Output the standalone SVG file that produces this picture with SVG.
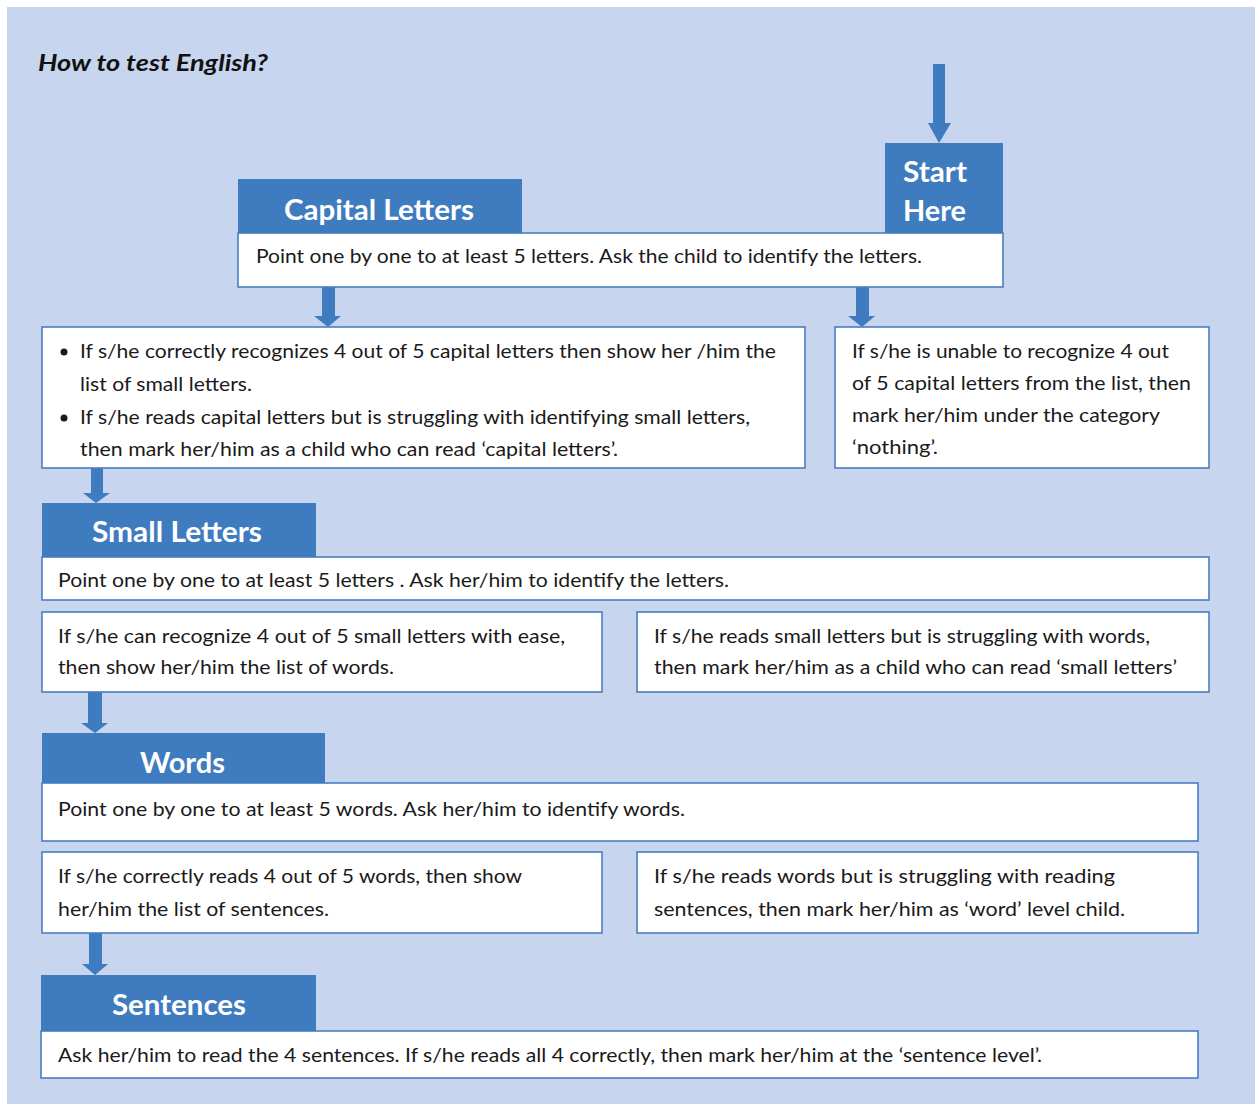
<svg xmlns="http://www.w3.org/2000/svg" width="1255" height="1104" viewBox="0 0 1255 1104">
<style>
.bg{fill:#C7D5EE}
.hdr{fill:#3F7CBF}
.box{fill:#FFFFFF;stroke:#4A7FC1;stroke-width:1.6}
.arr{fill:#3F7CBF}
.t{font-family:Lato,"Open Sans","Liberation Sans",sans-serif;font-size:20px;fill:#1A1A1A}
.h{font-family:Lato,"Open Sans","Liberation Sans",sans-serif;font-size:29px;font-weight:bold;fill:#FFFFFF}
.title{font-family:Lato,"Open Sans","Liberation Sans",sans-serif;font-size:23px;font-weight:bold;font-style:italic;fill:#111111}
</style>
<rect x="0" y="0" width="1255" height="1104" fill="#FFFFFF"/>
<rect class="bg" x="7" y="7" width="1248" height="1097"/>
<text class="title" x="38" y="71" textLength="230" lengthAdjust="spacingAndGlyphs">How to test English?</text>

<g id="connectors">
<polygon class="arr" points="933,64 945,64 945,123 951,123 939,143 928,123 933,123"/>
<polygon class="arr" points="322,285 335,285 335,316 341,316 328,327 314,316 322,316"/>
<polygon class="arr" points="856,285 869,285 869,316 875,316 862,327 848,316 856,316"/>
<polygon class="arr" points="91,466 103,466 103,493 110,493 96,503 83,493 91,493"/>
<polygon class="arr" points="88,692 102,692 102,723 108,723 95,733 81,723 88,723"/>
<polygon class="arr" points="89,933 102,933 102,964 108,964 95,975 82,964 89,964"/>
</g>

<g id="capital">
<rect class="box" x="238" y="233" width="765" height="54"/>
<rect class="hdr" x="238" y="179" width="284" height="54"/>
<text class="h" x="284" y="220" textLength="190" lengthAdjust="spacingAndGlyphs">Capital Letters</text>
<text class="t" x="256" y="263" textLength="666" lengthAdjust="spacingAndGlyphs">Point one by one to at least 5 letters. Ask the child to identify the letters.</text>
</g>

<g id="start">
<rect class="hdr" x="885" y="143" width="118" height="90"/>
<text class="h" x="903" y="182" textLength="64" lengthAdjust="spacingAndGlyphs">Start</text>
<text class="h" x="903" y="221" textLength="63" lengthAdjust="spacingAndGlyphs">Here</text>
</g>

<g id="capital-yes">
<rect class="box" x="42" y="327" width="763" height="141"/>
<circle cx="64" cy="352" r="3.5" fill="#1A1A1A"/>
<circle cx="64" cy="418" r="3.5" fill="#1A1A1A"/>
<text class="t" x="80" y="358" textLength="696" lengthAdjust="spacingAndGlyphs">If s/he correctly recognizes 4 out of 5 capital letters then show her /him the</text>
<text class="t" x="80" y="391" textLength="172" lengthAdjust="spacingAndGlyphs">list of small letters.</text>
<text class="t" x="80" y="424" textLength="670" lengthAdjust="spacingAndGlyphs">If s/he reads capital letters but is struggling with identifying small letters,</text>
<text class="t" x="80" y="456" textLength="538" lengthAdjust="spacingAndGlyphs">then mark her/him as a child who can read ‘capital letters’.</text>
</g>

<g id="capital-no">
<rect class="box" x="835" y="327" width="374" height="141"/>
<text class="t" x="852" y="358" textLength="317" lengthAdjust="spacingAndGlyphs">If s/he is unable to recognize 4 out</text>
<text class="t" x="852" y="390" textLength="339" lengthAdjust="spacingAndGlyphs">of 5 capital letters from the list,  then</text>
<text class="t" x="852" y="422" textLength="308" lengthAdjust="spacingAndGlyphs">mark her/him under the category</text>
<text class="t" x="852" y="454" textLength="86" lengthAdjust="spacingAndGlyphs">‘nothing’.</text>
</g>

<g id="small">
<rect class="box" x="42" y="557" width="1167" height="43"/>
<rect class="hdr" x="42" y="503" width="274" height="54"/>
<text class="h" x="92" y="542" textLength="170" lengthAdjust="spacingAndGlyphs">Small Letters</text>
<text class="t" x="58" y="587" textLength="671" lengthAdjust="spacingAndGlyphs">Point one by one to at least 5 letters .  Ask her/him to identify the letters.</text>
</g>

<g id="small-yes">
<rect class="box" x="42" y="612" width="560" height="80"/>
<text class="t" x="58" y="643" textLength="507" lengthAdjust="spacingAndGlyphs">If s/he can  recognize 4 out of 5 small letters with ease,</text>
<text class="t" x="58" y="674" textLength="336" lengthAdjust="spacingAndGlyphs">then show her/him the list of words.</text>
</g>

<g id="small-no">
<rect class="box" x="637" y="612" width="572" height="80"/>
<text class="t" x="654" y="643" textLength="496" lengthAdjust="spacingAndGlyphs">If s/he reads small letters but is struggling with words,</text>
<text class="t" x="654" y="674" textLength="523" lengthAdjust="spacingAndGlyphs">then mark her/him as a child who can read ‘small letters’</text>
</g>

<g id="words">
<rect class="box" x="42" y="783" width="1156" height="58"/>
<rect class="hdr" x="42" y="733" width="283" height="50"/>
<text class="h" x="140" y="773" textLength="85" lengthAdjust="spacingAndGlyphs">Words</text>
<text class="t" x="58" y="816" textLength="627" lengthAdjust="spacingAndGlyphs">Point one by one to at least 5 words.  Ask her/him to identify words.</text>
</g>

<g id="words-yes">
<rect class="box" x="42" y="852" width="560" height="81"/>
<text class="t" x="58" y="883" textLength="464" lengthAdjust="spacingAndGlyphs">If s/he correctly reads 4 out of 5 words, then show</text>
<text class="t" x="58" y="916" textLength="271" lengthAdjust="spacingAndGlyphs">her/him the list of sentences.</text>
</g>

<g id="words-no">
<rect class="box" x="637" y="852" width="561" height="81"/>
<text class="t" x="654" y="883" textLength="461" lengthAdjust="spacingAndGlyphs">If s/he   reads words but is struggling with reading</text>
<text class="t" x="654" y="916" textLength="471" lengthAdjust="spacingAndGlyphs">sentences, then mark her/him as ‘word’ level child.</text>
</g>

<g id="sentences">
<rect class="box" x="41" y="1031" width="1157" height="47"/>
<rect class="hdr" x="41" y="975" width="275" height="56"/>
<text class="h" x="112" y="1015" textLength="134" lengthAdjust="spacingAndGlyphs">Sentences</text>
<text class="t" x="58" y="1062" textLength="984" lengthAdjust="spacingAndGlyphs">Ask her/him to read the 4 sentences. If s/he reads all 4 correctly, then mark her/him at the ‘sentence level’.</text>
</g>
</svg>
